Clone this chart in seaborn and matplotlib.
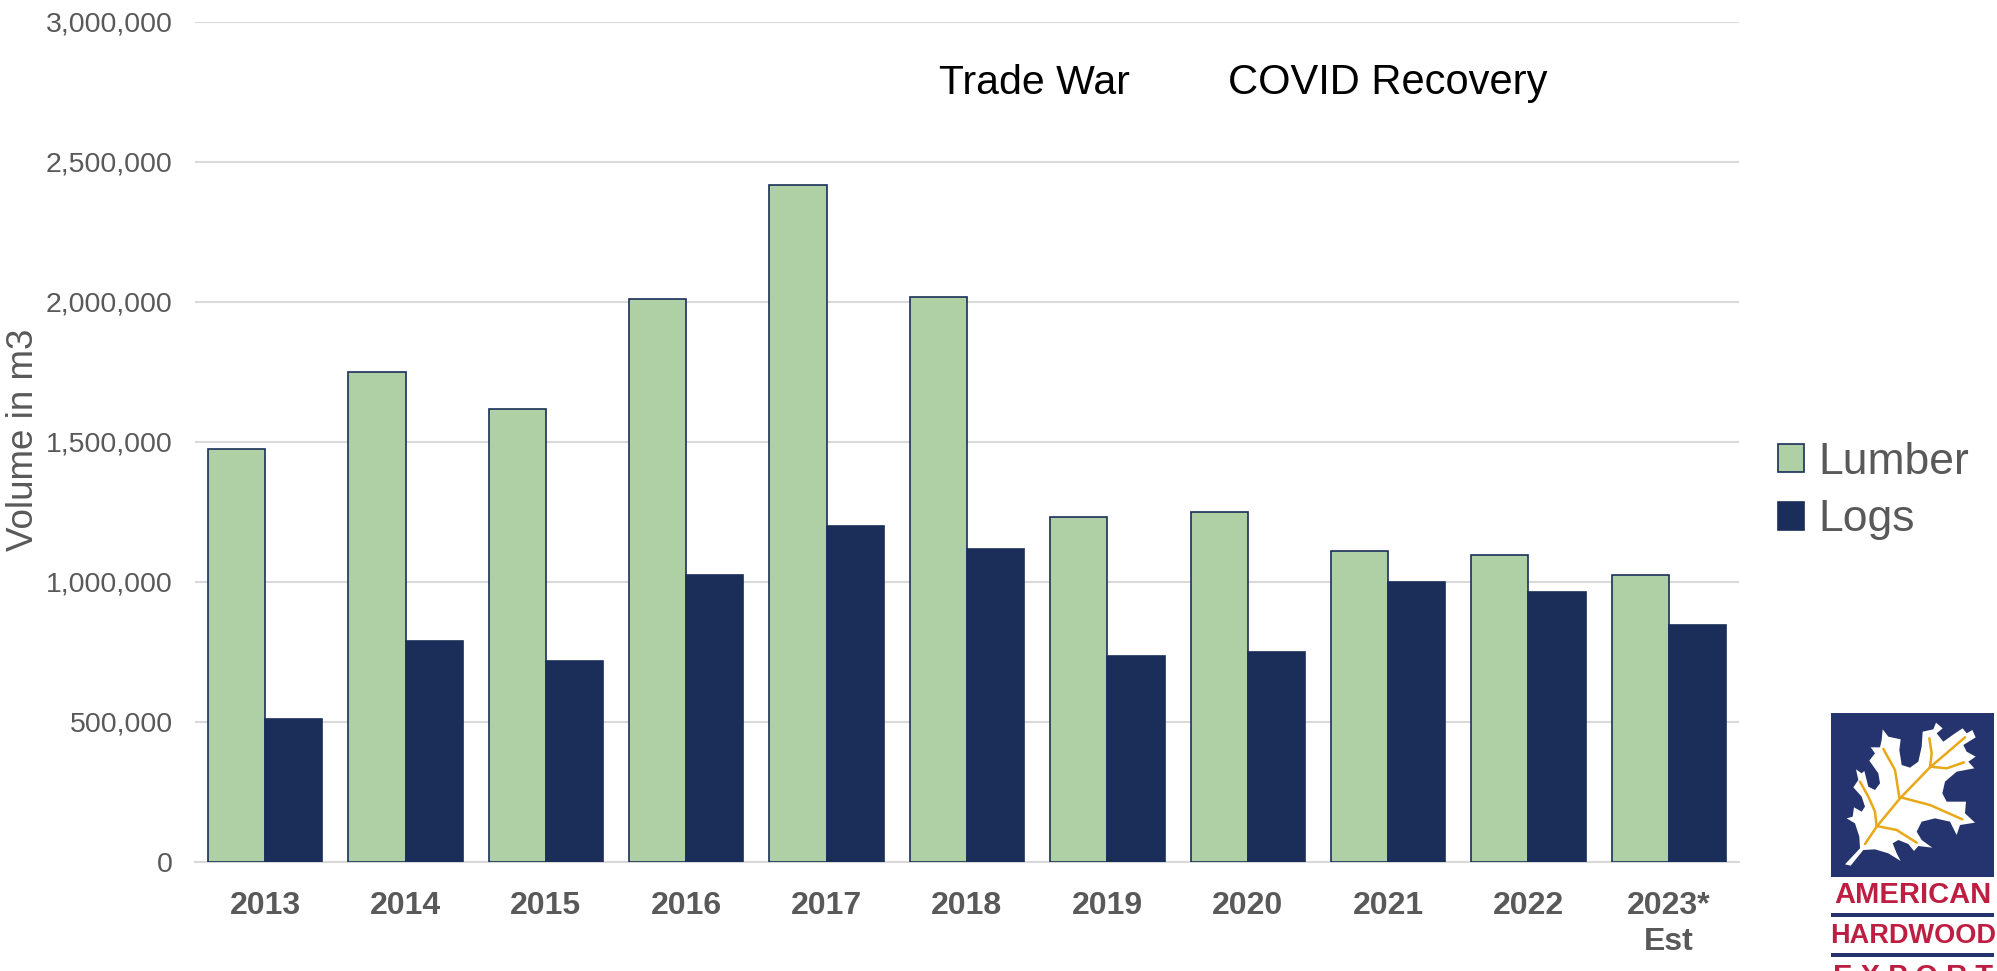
#!/usr/bin/env python3
# coding=utf-8
from matplotlib import pyplot as plt
from matplotlib.patches import Polygon, Rectangle
import pandas as pd
import seaborn as sns

W, H = 1997, 971

years = ["2013", "2014", "2015", "2016", "2017", "2018",
         "2019", "2020", "2021", "2022", "2023*\nEst"]
lumber = [1473000, 1750000, 1618000, 2009000, 2418000, 2018000,
          1232000, 1250000, 1109000, 1095000, 1023000]
logs = [509000, 790000, 718000, 1023000, 1200000, 1118000,
        736000, 750000, 1000000, 964000, 845000]
y_ticks = [0, 500000, 1000000, 1500000, 2000000, 2500000, 3000000]

GREEN = "#AFD0A5"
NAVY = "#1B2E5A"
GREY = "#595959"
GRID = "#D9D9D9"

# logo outline and veins, in pixels of the zoomed logo crop
leaf = [(195, 523), (212, 527), (250, 480), (285, 478), (325, 490), (362, 513),
        (350, 490), (338, 460), (355, 450), (385, 462), (402, 483), (415, 468),
        (457, 473), (425, 450), (410, 425), (425, 395), (465, 385), (510, 395),
        (530, 435), (540, 405), (585, 398), (555, 370), (558, 335), (500, 335),
        (487, 310), (495, 275), (530, 245), (583, 235), (565, 215), (587, 200),
        (560, 185), (550, 165), (587, 142), (577, 120), (560, 130), (548, 115),
        (525, 130), (490, 155), (470, 130), (488, 115), (468, 98), (460, 118),
        (428, 125), (425, 170), (415, 215), (390, 233), (365, 225), (358, 180),
        (362, 148), (325, 140), (308, 118), (305, 150), (300, 172), (272, 172),
        (285, 190), (268, 212), (295, 250), (300, 280), (285, 300), (265, 290),
        (253, 243), (245, 250), (228, 238), (235, 270), (220, 292), (245, 320),
        (255, 350), (245, 365), (222, 352), (218, 380), (200, 385), (225, 400),
        (238, 440), (240, 475)]
veins = [[(255, 462), (290, 410), (360, 325), (450, 232), (555, 142)],
         [(290, 410), (285, 365), (265, 320), (240, 275)],
         [(290, 408), (350, 420), (410, 458)],
         [(358, 322), (345, 240), (310, 177)],
         [(362, 322), (450, 345), (547, 388)],
         [(450, 232), (455, 190), (448, 145)],
         [(450, 230), (500, 235), (552, 217)]]


def logo_xy(pts):
    return [(1780 + x / 3, 690 + y / 3) for x, y in pts]


df = pd.DataFrame({"year": years * 2,
                   "volume": lumber + logs,
                   "kind": ["Lumber"] * len(years) + ["Logs"] * len(years)})

sns.set_theme(style="white")
plt.rcParams["font.family"] = ["Liberation Sans", "DejaVu Sans"]

fig = plt.figure(figsize=(W / 100, H / 100), dpi=100, facecolor="white")
ax = fig.add_axes([195 / W, 1 - 862 / H, (1739 - 195) / W, (862 - 21.5) / H])

sns.barplot(data=df, x="year", y="volume", hue="kind", ax=ax, width=0.815,
            palette={"Lumber": GREEN, "Logs": NAVY}, saturation=1, gap=0,
            edgecolor=NAVY, linewidth=1.2, zorder=3)

ax.set_ylim(0, 3000000)
ax.set_yticks(y_ticks)
ax.set_yticklabels([f"{v:,}" for v in y_ticks], fontsize=20.5, color=GREY)
ax.tick_params(axis="y", length=0, pad=16)
ax.tick_params(axis="x", length=0, pad=21)
for lab in ax.get_xticklabels():
    lab.set_fontsize(23)
    lab.set_fontweight("bold")
    lab.set_color(GREY)
    lab.set_linespacing(1.25)

ax.grid(axis="y", color=GRID, linewidth=1.5, zorder=0)
ax.set_axisbelow(True)
sns.despine(ax=ax, left=True, top=True, right=True)
ax.spines["bottom"].set_color(GRID)
ax.spines["bottom"].set_linewidth(1.5)

ax.set_xlabel("")
ax.set_ylabel("")
fig.text(24 / W, 1 - 440 / H, "Volume in m3", rotation=90, fontsize=26.5,
         color=GREY, ha="center", va="center")

fig.text(1034 / W, 1 - 83 / H, "Trade War", fontsize=29.5, color="black",
         ha="center", va="center")
fig.text(1388 / W, 1 - 83 / H, "COVID Recovery", fontsize=30, color="black",
         ha="center", va="center")

ax.legend(title=None, frameon=False, fontsize=32, loc="center left",
          bbox_to_anchor=(1778 / W, 1 - 491 / H),
          bbox_transform=fig.transFigure, borderaxespad=0, borderpad=0,
          handlelength=0.58, handleheight=0.58, handletextpad=0.32,
          labelspacing=0.38, labelcolor=GREY)

# logo, drawn on a full-figure overlay in pixel coordinates
over = fig.add_axes([0, 0, 1, 1], zorder=5)
over.set_xlim(0, W)
over.set_ylim(H, 0)
over.axis("off")
BLUE = "#25346E"
RED = "#BE1E41"
GOLD = "#E8A817"
over.add_patch(Rectangle((1831, 713), 163, 164, color=BLUE, lw=0))
over.add_patch(Polygon(logo_xy(leaf), closed=True, color="white", lw=0))
for v in veins:
    pts = logo_xy(v)
    over.plot([p[0] for p in pts], [p[1] for p in pts], color=GOLD, lw=1.8,
              solid_capstyle="round", solid_joinstyle="round")
over.add_patch(Rectangle((1831, 913), 163, 4, color=BLUE, lw=0))
over.add_patch(Rectangle((1831, 953), 163, 4, color=BLUE, lw=0))
over.text(1913, 895, "AMERICAN", fontsize=21, fontweight="bold", color=RED,
          ha="center", va="center")
over.text(1913, 936, "HARDWOOD", fontsize=19.5, fontweight="bold", color=RED,
          ha="center", va="center")
over.text(1913, 977, "E X P O R T", fontsize=21, fontweight="bold", color=RED,
          ha="center", va="center", clip_on=False)

fig.savefig("out.png", dpi=100)
